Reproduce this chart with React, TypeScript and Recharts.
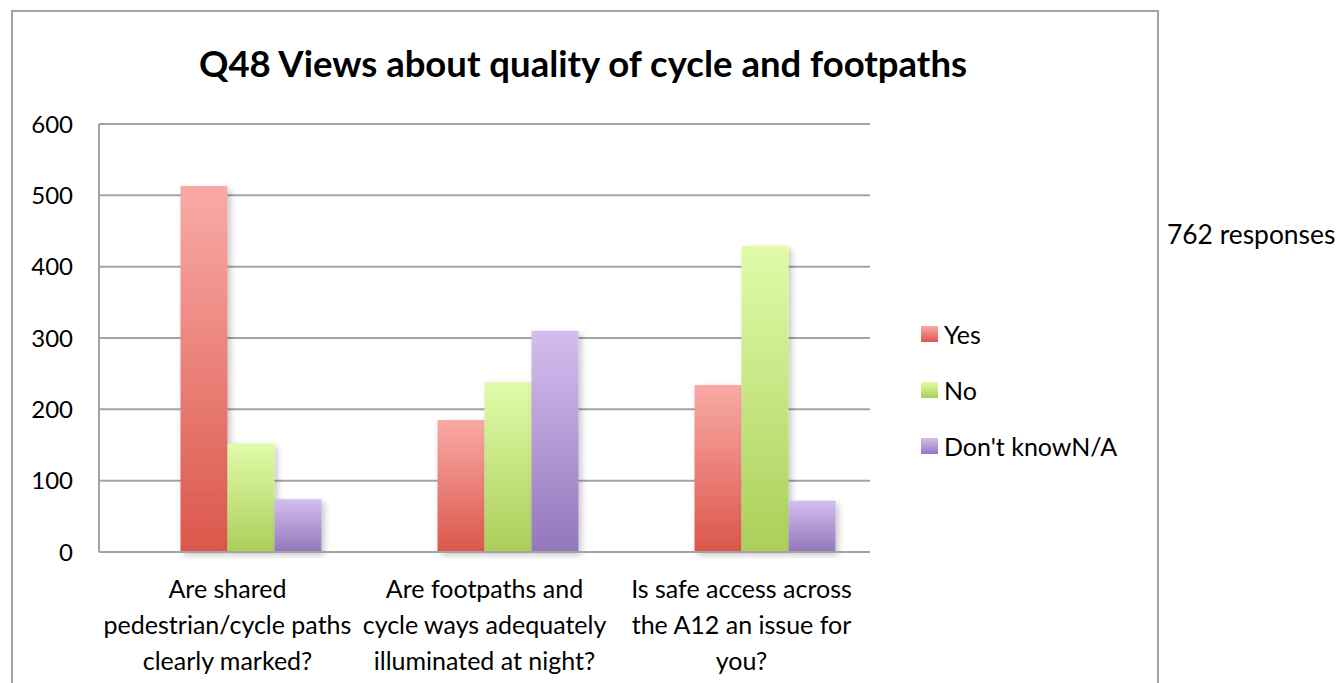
import React from 'react';
import { BarChart, Bar, XAxis, YAxis, CartesianGrid } from 'recharts';

const categories = [
    'Are shared\npedestrian/cycle paths\nclearly marked?',
    'Are footpaths and\ncycle ways adequately\nilluminated at night?',
    'Is safe access across\nthe A12 an issue for\nyou?',
];
const yesValues = [513, 185, 234];
const noValues = [152, 238, 429];
const dontKnowValues = [74, 310, 72];
const yTicks = [0, 100, 200, 300, 400, 500, 600];

const FONT = 'Lato, "Open Sans", sans-serif';

const series = [
    { key: 'yes', name: 'Yes', top: '#f9aaa6', bottom: '#db574b' },
    { key: 'no', name: 'No', top: '#e1fba9', bottom: '#abcf5a' },
    { key: 'dk', name: "Don't knowN/A", top: '#d3beee', bottom: '#9377bc' },
];

const data = categories.map((c, i) => ({
    category: c,
    yes: yesValues[i],
    no: noValues[i],
    dk: dontKnowValues[i],
}));

// multi-line category label under the axis
const CategoryTick = (props: any) => {
    const { x, y, payload } = props;
    const lines = String(payload.value).split('\n');
    return (
        <text x={x} y={y} textAnchor="middle" fill="#000" fontFamily={FONT} fontSize={25}>
            {lines.map((l, i) => (
                <tspan key={i} x={x} dy={i === 0 ? 38 : 36}>{l}</tspan>
            ))}
        </text>
    );
};

const LegendBox = () => (
    <div style={{ position: 'absolute', left: 921, top: 306, fontFamily: FONT, fontSize: 25, color: '#000' }}>
        {series.map(s => (
            <div key={s.key} style={{ display: 'flex', alignItems: 'center', height: 56 }}>
                <div style={{ width: 17, height: 16, marginRight: 6, background: `linear-gradient(${s.top}, ${s.bottom})` }} />
                <span>{s.name}</span>
            </div>
        ))}
    </div>
);

export default function App() {
    return (
        <div style={{ position: 'absolute', left: 0, top: 0, width: 1340, height: 683, overflow: 'hidden', background: '#fff' }}>
            {/* chart frame, bottom edge runs off the page */}
            <div style={{ position: 'absolute', left: 11, top: 10, width: 1144, height: 700, border: '2px solid #a3a3a3' }} />
            <div style={{ position: 'absolute', left: 0, top: 42, width: 1166, textAlign: 'center', fontFamily: FONT, fontWeight: 700, fontSize: 36.5, lineHeight: '42px', color: '#000' }}>
                Q48 Views about quality of cycle and footpaths
            </div>
            <div style={{ position: 'absolute', left: 1167, top: 217, fontFamily: FONT, fontSize: 26.4, lineHeight: '34px', color: '#000' }}>
                762 responses
            </div>
            <div style={{ position: 'absolute', left: 0, top: 0 }}>
                <BarChart width={1340} height={683} data={data} margin={{ top: 124, right: 470, bottom: 0, left: 39 }} barSize={47} barGap={0}>
                    <defs>
                        {series.map(s => (
                            <linearGradient key={s.key} id={`grad-${s.key}`} x1="0" y1="0" x2="0" y2="1">
                                <stop offset="0%" stopColor={s.top} />
                                <stop offset="100%" stopColor={s.bottom} />
                            </linearGradient>
                        ))}
                        <filter id="barShadow" x="-20%" y="-5%" width="150%" height="115%">
                            <feDropShadow dx="3" dy="3" stdDeviation="3" floodColor="#000" floodOpacity="0.22" />
                        </filter>
                    </defs>
                    <CartesianGrid vertical={false} stroke="#a3a3a3" strokeWidth={2} />
                    <XAxis
                        xAxisId="lab"
                        dataKey="category"
                        tick={<CategoryTick />}
                        tickLine={false}
                        axisLine={{ stroke: '#a3a3a3', strokeWidth: 2 }}
                        interval={0}
                        height={131}
                    />
                    <XAxis xAxisId="bars" dataKey="category" hide height={0} padding={{ left: 23.5, right: -23.5 }} />
                    <YAxis
                        domain={[0, 600]}
                        ticks={yTicks}
                        tickLine={false}
                        tickSize={0}
                        tickMargin={26}
                        width={60}
                        axisLine={{ stroke: '#a3a3a3', strokeWidth: 2 }}
                        tick={{ fill: '#000', fontSize: 24, fontFamily: FONT }}
                        interval={0}
                    />
                    {series.map(s => (
                        <Bar key={s.key} xAxisId="bars" dataKey={s.key} name={s.name} fill={`url(#grad-${s.key})`} filter="url(#barShadow)" isAnimationActive={false} />
                    ))}
                </BarChart>
            </div>
            <LegendBox />
        </div>
    );
}
